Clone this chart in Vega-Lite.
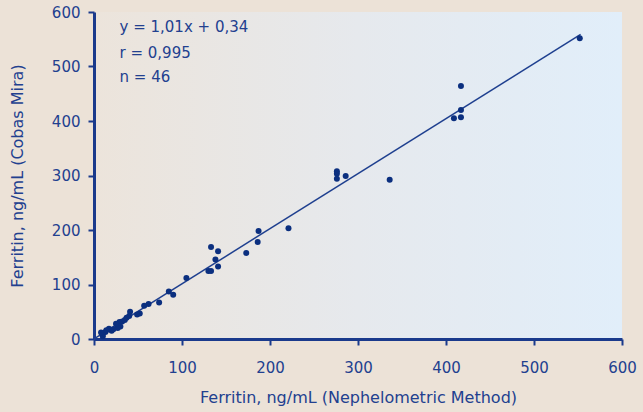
{
  "$schema": "https://vega.github.io/schema/vega-lite/v6.json",
  "width": 528,
  "height": 327,
  "autosize": {"type": "none"},
  "padding": {"left": 94, "top": 12, "right": 21, "bottom": 73},
  "background": "#ece2d7",
  "config": {
    "view": {
      "stroke": null,
      "fill": {"gradient": "linear", "x1": 0, "y1": 0.5, "x2": 1, "y2": 0.5,
        "stops": [{"offset": 0, "color": "#ece4db"}, {"offset": 0.5, "color": "#e6e9ed"}, {"offset": 1, "color": "#e1eefa"}]}
    },
    "axis": {
      "domainColor": "#1a3a8c", "domainWidth": 3, "tickColor": "#1a3a8c", "tickWidth": 2, "tickSize": 6,
      "grid": false, "labelColor": "#22408f", "titleColor": "#22408f", "labelFlush": false,
      "labelFont": "DejaVu Sans", "titleFont": "DejaVu Sans", "labelFontSize": 15, "titleFontSize": 16,
      "titleFontWeight": "normal"
    }
  },
  "datasets": {
    "pts": [
      {"neph": 552, "mira": 552}, {"neph": 417, "mira": 464}, {"neph": 417, "mira": 420}, {"neph": 417, "mira": 407},
      {"neph": 409, "mira": 405}, {"neph": 336, "mira": 292}, {"neph": 286, "mira": 299}, {"neph": 276, "mira": 308},
      {"neph": 276, "mira": 303}, {"neph": 276, "mira": 294}, {"neph": 221, "mira": 203}, {"neph": 187, "mira": 198},
      {"neph": 186, "mira": 178}, {"neph": 173, "mira": 158}, {"neph": 141, "mira": 161}, {"neph": 133, "mira": 169},
      {"neph": 138, "mira": 146}, {"neph": 141, "mira": 133}, {"neph": 130, "mira": 125}, {"neph": 133, "mira": 125},
      {"neph": 105, "mira": 112}, {"neph": 85, "mira": 87}, {"neph": 90, "mira": 81}, {"neph": 74, "mira": 67},
      {"neph": 62, "mira": 64}, {"neph": 57, "mira": 61}, {"neph": 52, "mira": 47}, {"neph": 49, "mira": 45},
      {"neph": 41, "mira": 50}, {"neph": 40, "mira": 42}, {"neph": 37, "mira": 39}, {"neph": 32, "mira": 32},
      {"neph": 29, "mira": 31}, {"neph": 27, "mira": 25}, {"neph": 30, "mira": 23}, {"neph": 27, "mira": 20},
      {"neph": 20, "mira": 15}, {"neph": 17, "mira": 19}, {"neph": 13, "mira": 13}, {"neph": 10, "mira": 9},
      {"neph": 10, "mira": 5}, {"neph": 25, "mira": 28}, {"neph": 22, "mira": 18}, {"neph": 14, "mira": 16},
      {"neph": 8, "mira": 12}, {"neph": 35, "mira": 35}
    ],
    "fit": [{"neph": 0, "mira": 0.34}, {"neph": 553, "mira": 558.9}],
    "notes": [
      {"neph": 29, "mira": 572, "text": "y = 1,01x + 0,34"},
      {"neph": 29, "mira": 525, "text": "r = 0,995"},
      {"neph": 29, "mira": 481, "text": "n = 46"}
    ]
  },
  "layer": [
    {
      "data": {"name": "fit"},
      "mark": {"type": "line", "color": "#1e3f8f", "strokeWidth": 1.5},
      "encoding": {
        "x": {"field": "neph", "type": "quantitative", "scale": {"domain": [0, 600]},
          "axis": {"values": [0, 100, 200, 300, 400, 500, 600], "title": "Ferritin, ng/mL (Nephelometric Method)", "labelPadding": 15, "titlePadding": 14}},
        "y": {"field": "mira", "type": "quantitative", "scale": {"domain": [0, 600]},
          "axis": {"values": [0, 100, 200, 300, 400, 500, 600], "title": "Ferritin, ng/mL (Cobas Mira)", "labelPadding": 8, "titlePadding": 26}}
      }
    },
    {
      "data": {"name": "pts"},
      "mark": {"type": "circle", "color": "#0b2f7f", "opacity": 1, "size": 36},
      "encoding": {
        "x": {"field": "neph", "type": "quantitative"},
        "y": {"field": "mira", "type": "quantitative"}
      }
    },
    {
      "data": {"name": "notes"},
      "mark": {"type": "text", "align": "left", "baseline": "middle", "font": "DejaVu Sans", "fontSize": 15, "color": "#22408f"},
      "encoding": {
        "x": {"field": "neph", "type": "quantitative"},
        "y": {"field": "mira", "type": "quantitative"},
        "text": {"field": "text"}
      }
    }
  ]
}
